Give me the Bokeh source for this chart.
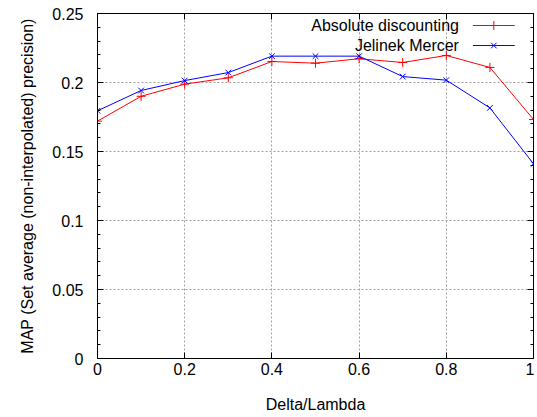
from bokeh.plotting import figure
from bokeh.models import Range1d, FixedTicker, LinearAxis
from bokeh.embed import file_html
from bokeh.resources import INLINE
from bokeh.core.properties import value

# ---- data ----
x_vals = [0.0, 0.1, 0.2, 0.3, 0.4, 0.5, 0.6, 0.7, 0.8, 0.9, 1.0]
absolute_discounting = [0.172, 0.190, 0.1988, 0.2034, 0.2152, 0.2140, 0.2172, 0.2145, 0.2196, 0.2109, 0.1732]
jelinek_mercer = [0.1795, 0.1942, 0.2014, 0.2072, 0.2191, 0.2191, 0.2191, 0.2043, 0.2017, 0.1816, 0.1411]
series_names = ["Absolute discounting", "Jelinek Mercer"]

x_ticks = [0, 0.2, 0.4, 0.6, 0.8, 1.0]
x_tick_labels = ["0", "0.2", "0.4", "0.6", "0.8", "1"]
y_ticks = [0, 0.05, 0.1, 0.15, 0.2, 0.25]
y_tick_labels = ["0", "0.05", "0.1", "0.15", "0.2", "0.25"]
y_minor = [i / 100 for i in range(26)]

FONT = "Liberation Sans"

p = figure(width=534, height=417, output_backend="svg", toolbar_location=None,
           x_range=Range1d(0, 1), y_range=Range1d(0, 0.25),
           min_border_left=97, min_border_right=1, min_border_top=13, min_border_bottom=59,
           x_axis_label="Delta/Lambda",
           y_axis_label="MAP (Set average (non-interpolated) precision)")
p.outline_line_color = "black"
p.outline_line_width = 1
p.background_fill_color = "white"
p.border_fill_color = "white"

def style_axis(ax, ticks, labels, minor, show_labels=True):
    ax.ticker = FixedTicker(ticks=ticks, minor_ticks=minor)
    ax.major_label_overrides = {t: l for t, l in zip(ticks, labels)}
    ax.axis_line_color = "black"
    ax.major_tick_line_color = "black"
    ax.minor_tick_line_color = "black"
    ax.major_tick_in = 6
    ax.major_tick_out = 0
    ax.minor_tick_in = 3
    ax.minor_tick_out = 0
    ax.major_label_text_font = FONT
    ax.major_label_text_font_size = "16px"
    ax.major_label_text_color = "black"
    ax.axis_label_text_font = FONT
    ax.axis_label_text_font_size = "16px"
    ax.axis_label_text_font_style = "normal"
    ax.axis_label_text_color = "black"
    if not show_labels:
        ax.major_label_text_font_size = "0px"
        ax.major_label_text_alpha = 0

xa = p.xaxis[0]
style_axis(xa, x_ticks, x_tick_labels, [])
xa.major_label_standoff = 4
xa.axis_label_standoff = 18

ya = p.yaxis[0]
style_axis(ya, y_ticks, y_tick_labels, y_minor)
ya.major_label_standoff = 14
ya.axis_label_standoff = 13

top_ax = LinearAxis()
style_axis(top_ax, x_ticks, x_tick_labels, [], show_labels=False)
p.add_layout(top_ax, "above")
right_ax = LinearAxis()
style_axis(right_ax, y_ticks, y_tick_labels, y_minor, show_labels=False)
p.add_layout(right_ax, "right")

p.xgrid.ticker = FixedTicker(ticks=x_ticks[1:-1])
p.ygrid.ticker = FixedTicker(ticks=y_ticks[1:-1])
for g in (p.xgrid, p.ygrid):
    g.grid_line_color = "#a0a0a0"
    g.grid_line_dash = "2 2"
    g.grid_line_width = 1

# series
p.line(x_vals, absolute_discounting, line_color="red", line_width=1)
p.scatter(x_vals, absolute_discounting, marker="cross", size=9, line_color="red", line_width=1)
p.line(x_vals, jelinek_mercer, line_color="blue", line_width=1)
p.scatter(x_vals, jelinek_mercer, marker="x", size=8, line_color="blue", line_width=1)

# gnuplot-style key (text on the left, sample on the right)
key_y = [0.2413, 0.2268]
key_colors = ["red", "blue"]
key_markers = ["cross", "x"]
for name, yy, c, m in zip(series_names, key_y, key_colors, key_markers):
    p.text(x=[0.829], y=[yy], text=[name], text_align="right", text_baseline="middle",
           text_font=value(FONT), text_font_size="16px", text_color="black")
    p.segment(x0=[0.861], y0=[yy], x1=[0.957], y1=[yy], line_color=c, line_width=1)
    p.scatter(x=[0.909], y=[yy], marker=m, size=9 if m == "cross" else 8, line_color=c, line_width=1)

open("out.html", "w").write(file_html(p, INLINE))
